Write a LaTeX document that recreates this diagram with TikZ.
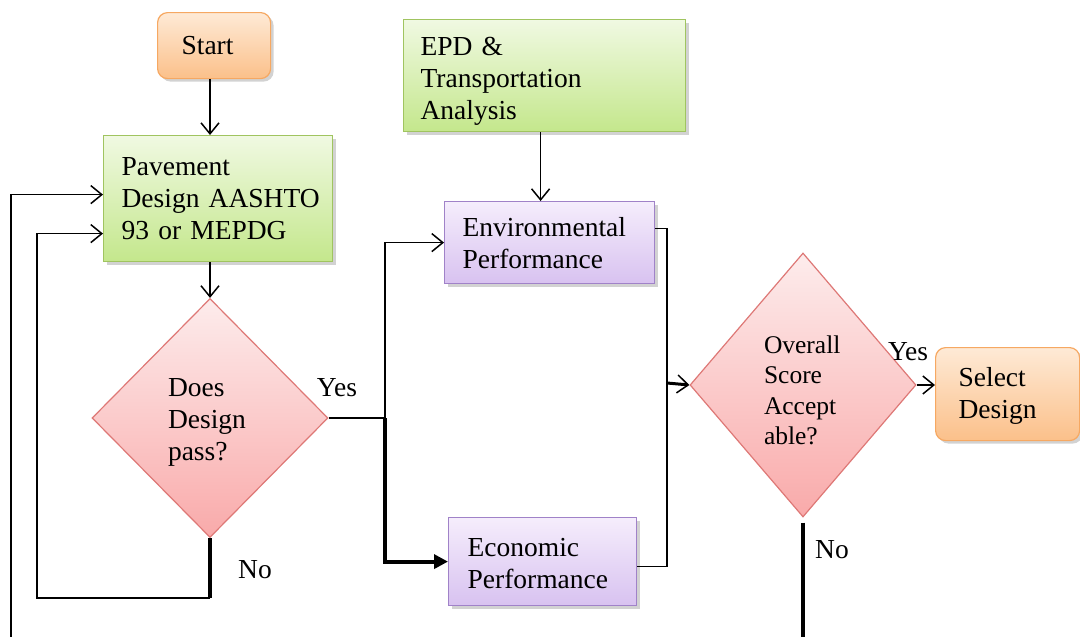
\documentclass[tikz,border=0pt]{standalone}
\usepackage{fontspec}
\setmainfont{Liberation Serif}
\usetikzlibrary{shapes.geometric,arrows.meta,shadows,calc}

\definecolor{orTop}{RGB}{254,234,214}
\definecolor{orBot}{RGB}{251,192,138}
\definecolor{orLine}{RGB}{246,168,98}
\definecolor{grTop}{RGB}{240,249,226}
\definecolor{grBot}{RGB}{196,231,140}
\definecolor{grLine}{RGB}{160,196,96}
\definecolor{puTop}{RGB}{245,237,252}
\definecolor{puBot}{RGB}{216,194,240}
\definecolor{puLine}{RGB}{160,130,200}
\definecolor{pkTop}{RGB}{253,236,236}
\definecolor{pkBot}{RGB}{249,170,170}
\definecolor{pkLine}{RGB}{222,120,118}

% invisible strut that lowers a text block inside its shape
\newcommand{\lift}[1]{\rule{0pt}{#1}}

\begin{document}
\begin{tikzpicture}[x=1pt,y=-1pt,
  txt/.style={font=\fontsize{27.5}{32}\selectfont},
  boxbase/.style={txt, rectangle, anchor=north west, align=left, inner ysep=0pt,
    line width=1.2pt,
    drop shadow={shadow xshift=3pt, shadow yshift=-3pt, opacity=0.25, fill=black!70}},
  orangebox/.style={boxbase, rounded corners=10pt, draw=orLine, top color=orTop, bottom color=orBot},
  greenbox/.style={boxbase, draw=grLine, top color=grTop, bottom color=grBot},
  purplebox/.style={boxbase, draw=puLine, top color=puTop, bottom color=puBot},
  decision/.style={diamond, align=left, inner sep=0pt, line width=1.2pt,
    draw=pkLine, top color=pkTop, bottom color=pkBot},
  flow/.style={line width=1.5pt},
  heavy/.style={line width=4pt},
  arr/.style={-{Straight Barb[length=11pt,width=18pt,line width=1.5pt]}},
  fatarr/.style={-{Triangle[length=14pt,width=14pt]}},
  lbl/.style={txt, inner sep=0pt}
]
\useasboundingbox (0,0) rectangle (1080,637);

% process boxes
\node[orangebox, minimum width=113, minimum height=66, inner xsep=24, text width=65]
  (start) at (157,12) {\mbox{Start}};
\node[greenbox, minimum width=229, minimum height=126, inner xsep=18, text width=193]
  (pav) at (103,135) {\mbox{Pavement}\\\mbox{Design AASHTO}\\\mbox{93 or MEPDG}};
\node[greenbox, minimum width=282, minimum height=112, inner xsep=17, text width=248]
  (epd) at (403,19) {\lift{29pt}\mbox{EPD \&}\\\mbox{Transportation}\\\mbox{Analysis}};
\node[purplebox, minimum width=210, minimum height=82, inner xsep=18, text width=174]
  (env) at (444,201) {\mbox{Environmental}\\\mbox{Performance}};
\node[purplebox, minimum width=188, minimum height=88, inner xsep=19, text width=150]
  (econ) at (448,517) {\lift{22pt}\mbox{Economic}\\\mbox{Performance}};
\node[orangebox, minimum width=144, minimum height=93, inner xsep=23, text width=98]
  (sel) at (935,347) {\lift{22pt}\mbox{Select}\\\mbox{Design}};

% decisions
\node[decision, txt, minimum width=236, minimum height=239, text width=84]
  (d1) at (210,418) {\lift{27pt}Does\\Design\\pass?};
\node[decision, font=\fontsize{25.5}{30.5}\selectfont, minimum width=226, minimum height=264, text width=78]
  (d2) at (803,385) {\lift{28pt}Overall\\Score\\Accept\\able?};

% branch labels
\node[lbl] (yes1) at (337,388) {Yes};
\node[lbl] (no1) at (255,570) {No};
\node[lbl] (yes2) at (908,352) {Yes};
\node[lbl] (no2) at (832,550) {No};

% junctions and loose ends
\coordinate (J) at (385,418);
\coordinate (M) at (667,383);
\coordinate (L1) at (210,598);
\coordinate (L2) at (37,598);
\coordinate (offA) at (803,640);
\coordinate (offB) at (11,640);

% connectors
\draw[flow,arr] (start.south -| d1.north) -- (pav.north -| d1.north);
\draw[flow,arr] (pav.south -| d1.north) -- (d1.north);
\draw[flow,arr] ([xshift=-4pt]epd.south) -- ([xshift=-4pt]epd.south |- env.north);
\draw[flow] (d1.east) -- (J);
\draw[flow,arr] (J) |- (env.west);
\draw[heavy,fatarr] (J) |- (econ.west);
\draw[flow] ([yshift=14pt]env.east) -| (M);
\draw[flow] ([yshift=-5pt]econ.east) -| (M);
\draw[line width=3pt,arr] (M) -- (d2.west);
\draw[flow,arr] (d2.east) -- (d2.east -| sel.west);
\draw[heavy] ([yshift=-5pt]d2.south) -- (offA);
\draw[heavy] (d1.south) -- (L1);
\draw[flow,arr] (L1) -- (L2) |- ([yshift=-35pt]pav.west);
\draw[flow,arr] (offB) |- ([yshift=4pt]pav.west);
\end{tikzpicture}
\end{document}
